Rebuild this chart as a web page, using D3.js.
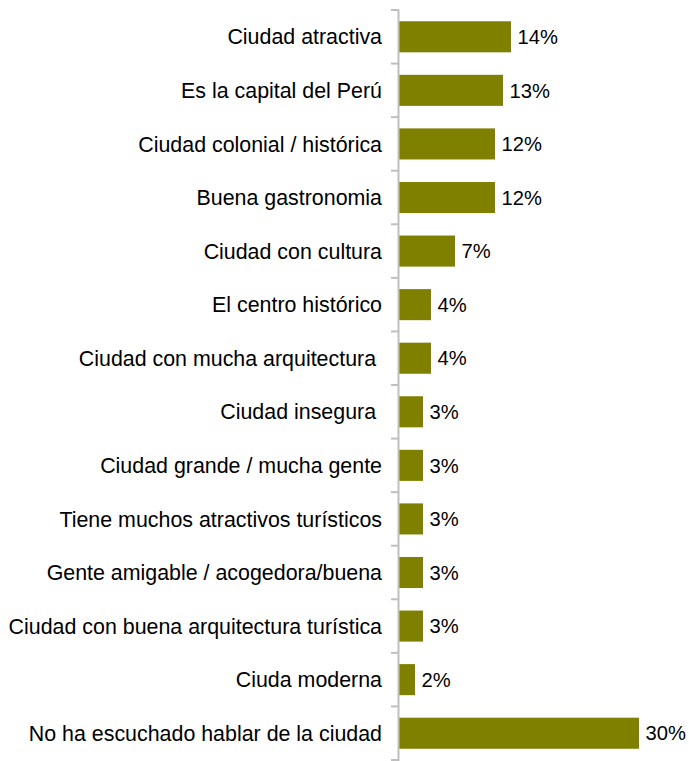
<!DOCTYPE html>
<html>
<head>
<meta charset="utf-8">
<script src="https://cdn.jsdelivr.net/npm/d3@7"></script>
<style>
  html, body { margin: 0; padding: 0; background: #ffffff; }
  svg { display: block; }
  text { font-family: "Liberation Sans", Arial, sans-serif; fill: #000; }
</style>
</head>
<body>
<svg id="chart" width="689" height="761"></svg>
<script>
// Reasons associated with the city, share of respondents (%)
const categories = [
  "Ciudad atractiva",
  "Es la capital del Perú",
  "Ciudad colonial / histórica",
  "Buena gastronomia",
  "Ciudad con cultura",
  "El centro histórico",
  "Ciudad con mucha arquitectura ",
  "Ciudad insegura ",
  "Ciudad grande / mucha gente",
  "Tiene muchos atractivos turísticos",
  "Gente amigable / acogedora/buena",
  "Ciudad con buena arquitectura turística",
  "Ciuda moderna",
  "No ha escuchado hablar de la ciudad"
];
const values = [14, 13, 12, 12, 7, 4, 4, 3, 3, 3, 3, 3, 2, 30];
const valueLabels = ["14%", "13%", "12%", "12%", "7%", "4%", "4%", "3%", "3%", "3%", "3%", "3%", "2%", "30%"];

const svg = d3.select("#chart");
const axisX = 399;

const x = d3.scaleLinear().domain([0, 30]).range([axisX, axisX + 240]);
const y = d3.scaleBand().domain(categories).range([10, 760]).paddingInner(0.42).paddingOuter(0.21);

// Bars
svg.append("g").selectAll("rect")
  .data(values)
  .join("rect")
  .attr("x", x(0))
  .attr("y", (d, i) => y(categories[i]))
  .attr("width", d => x(d) - x(0))
  .attr("height", y.bandwidth())
  .attr("fill", "#808000");

// Value labels
svg.append("g").selectAll("text")
  .data(values)
  .join("text")
  .attr("x", d => x(d) + 6.5)
  .attr("y", (d, i) => y(categories[i]) + y.bandwidth() / 2)
  .attr("dy", "0.36em")
  .attr("font-size", 20.2)
  .text((d, i) => valueLabels[i]);

// Category axis: vertical line with ticks at band boundaries
const axis = svg.append("g");
axis.append("line")
  .attr("x1", axisX - 0.5).attr("x2", axisX - 0.5)
  .attr("y1", 10).attr("y2", 761)
  .attr("stroke", "#bfbfbf").attr("stroke-width", 2);
const boundaries = d3.range(categories.length + 1).map(i => 10 + i * (760 - 10) / categories.length);
axis.selectAll("line.tick")
  .data(boundaries)
  .join("line")
  .attr("class", "tick")
  .attr("x1", axisX - 8).attr("x2", axisX)
  .attr("y1", d => d).attr("y2", d => d)
  .attr("stroke", "#bfbfbf").attr("stroke-width", 2);

axis.selectAll("text")
  .data(categories)
  .join("text")
  .attr("x", 382)
  .attr("y", d => y(d) + y.bandwidth() / 2)
  .attr("dy", "0.36em")
  .attr("text-anchor", "end")
  .attr("font-size", 21.4)
  .attr("xml:space", "preserve")
  .text(d => d);
</script>
</body>
</html>
